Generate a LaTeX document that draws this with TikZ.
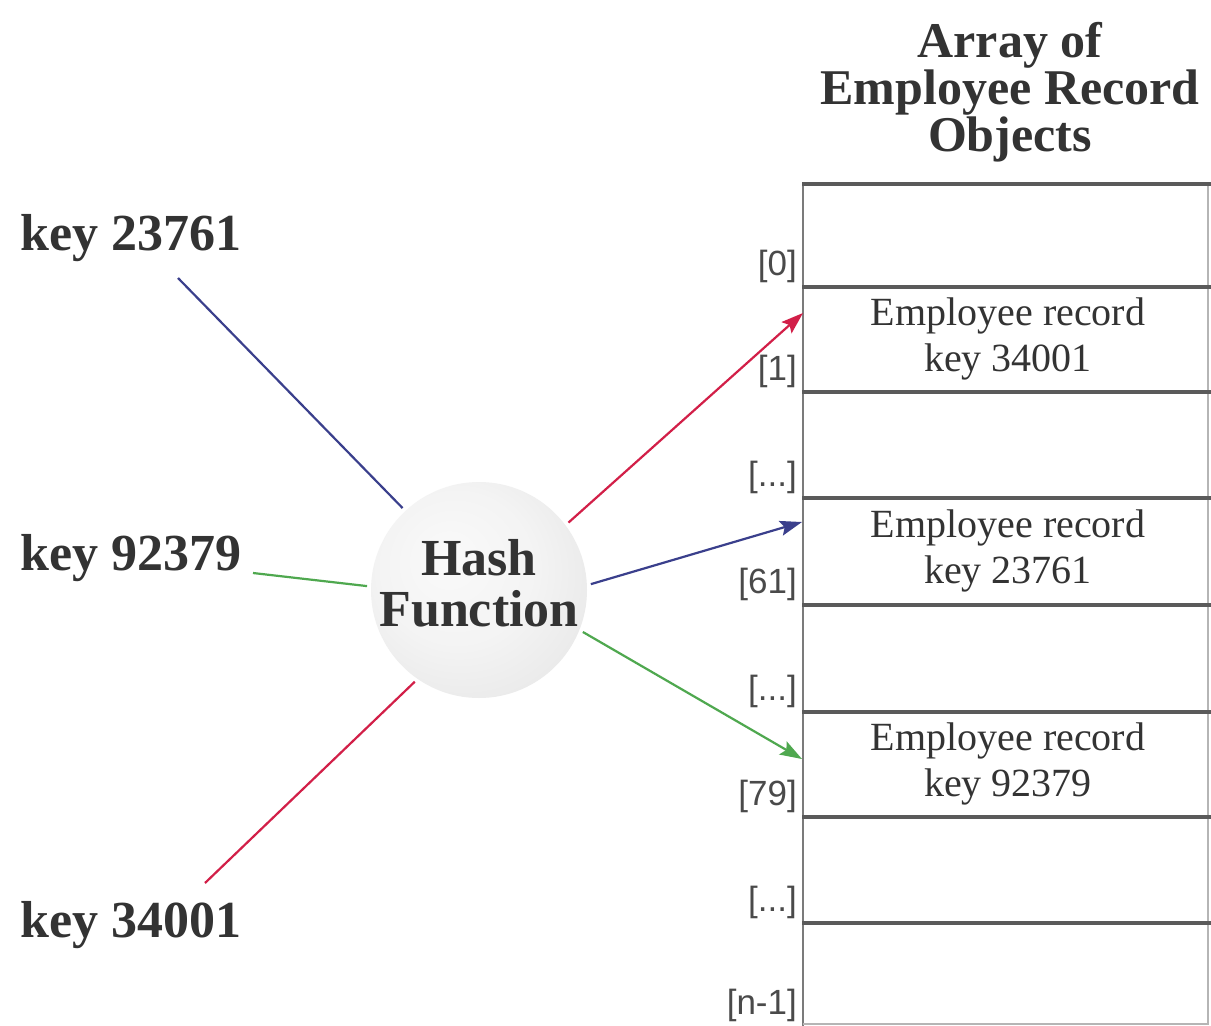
\documentclass[tikz,border=0pt]{standalone}
\usepackage{fontspec}
\setmainfont{Liberation Serif}
\newfontfamily\idxfont{Liberation Sans}
\usetikzlibrary{arrows.meta}
\definecolor{txt}{HTML}{333333}
\definecolor{idx}{HTML}{4A4A4A}
\definecolor{gridc}{HTML}{5A5A5A}
\definecolor{lblue}{HTML}{3A3F8C}
\definecolor{lgreen}{HTML}{4FA84F}
\definecolor{lred}{HTML}{D21F48}
\pgfdeclareradialshading{hashball}{\pgfpoint{-8bp}{8bp}}{%
  color(0bp)=(gray!4); color(18bp)=(gray!9); color(40bp)=(gray!22); color(50bp)=(gray!28)}
\tikzset{
  keylabel/.style={anchor=base west, inner sep=0pt, text=txt,
    font=\fontsize{52}{56}\selectfont\bfseries},
  titlelabel/.style={align=center, inner sep=0pt, text=txt,
    font=\fontsize{50}{47}\selectfont\bfseries},
  hashnode/.style={circle, minimum size=216pt, inner sep=0pt, outer sep=4pt,
    shading=hashball},
  hashtext/.style={align=center, inner sep=0pt, text=txt,
    font=\fontsize{52}{51}\selectfont\bfseries},
  rowbox/.style={minimum width=406pt, inner sep=0pt, anchor=north west},
  rectext/.style={align=center, inner sep=0pt, text=txt,
    font=\fontsize{40}{46}\selectfont},
  idxlabel/.style={anchor=base east, inner sep=0pt, text=idx,
    font=\idxfont\fontsize{35}{40}\selectfont},
  conn/.style={line width=2.2pt},
  arr/.style={line width=2.2pt, -{Stealth[length=22pt,width=15pt,inset=4pt]}},
  rowline/.style={draw=gridc, line width=3.5pt},
  sideline/.style={draw=gridc!80, line width=2pt},
}
\begin{document}
\begin{tikzpicture}[x=1pt,y=-1pt]
\useasboundingbox (0,0) rectangle (1211,1026);
\fill[white] (0,0) rectangle (1211,1026);

% title
\node[titlelabel] (title) at (1010,92) {Array of\\Employee Record\\Objects};

% array rows
\node[rowbox, minimum height=103pt] (r0) at (803,184) {};
\node[rowbox, minimum height=105pt] (r1) at (803,287) {};
\node[rowbox, minimum height=106pt] (r2) at (803,392) {};
\node[rowbox, minimum height=107pt] (r3) at (803,498) {};
\node[rowbox, minimum height=107pt] (r4) at (803,605) {};
\node[rowbox, minimum height=105pt] (r5) at (803,712) {};
\node[rowbox, minimum height=106pt] (r6) at (803,817) {};
\node[rowbox, minimum height=100pt] (r7) at (803,923) {};

\draw[sideline] (803,184) -- (803,1026);
\draw[draw=gridc!45, line width=1.5pt] (1208,184) -- (1208,1024) -- (803,1024);
\draw[rowline] (802,184) -- (1211,184);
\foreach \y in {287,392,498,605,712,817,923}
  \draw[rowline] (802,\y) -- (1211,\y);

% record texts
\node[rectext] (rec1) at (1008,339) {Employee record\\key 34001};
\node[rectext] (rec3) at (1008,551) {Employee record\\key 23761};
\node[rectext] (rec5) at (1008,764) {Employee record\\key 92379};

% index labels
\node[idxlabel] (i0) at (797,275) {[0]};
\node[idxlabel] (i1) at (797,380) {[1]};
\node[idxlabel] (i2) at (797,486) {[...]};
\node[idxlabel] (i3) at (797,593) {[61]};
\node[idxlabel] (i4) at (797,700) {[...]};
\node[idxlabel] (i5) at (797,805) {[79]};
\node[idxlabel] (i6) at (797,911) {[...]};
\node[idxlabel] (i7) at (797,1014) {[n-1]};

% keys
\node[keylabel] (k1) at (20,250) {key 23761};
\node[keylabel] (k2) at (20,570) {key 92379};
\node[keylabel] (k3) at (20,937) {key 34001};

% hash function
\node[hashnode] (hash) at (479,590) {};
\node[hashtext] (hashlbl) at (479,583) {Hash\\Function};

% connector free ends
\coordinate (k1e) at (178,278);
\coordinate (k2e) at (253,573);
\coordinate (k3e) at (205,883);
\coordinate (t1) at (803,313);
\coordinate (t3) at (802,522);
\coordinate (t5) at (802,759);

\draw[conn, lblue] (k1e) -- (hash.133);
\draw[conn, lgreen] (k2e) -- (hash.178);
\draw[conn, lred] (k3e) -- (hash.235);

\draw[arr, lred] (hash.37) -- (t1);
\draw[arr, lblue] (hash.3) -- (t3);
\draw[arr, lgreen] (hash.-22) -- (t5);
\end{tikzpicture}
\end{document}
